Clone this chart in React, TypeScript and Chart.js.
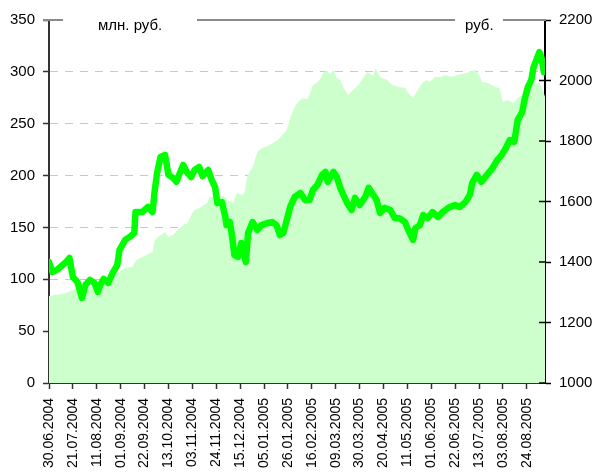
import React, { useEffect, useRef } from "react";
import { Chart, registerables } from "chart.js";

Chart.register(...registerables);

const tickLabels = [
  "30.06.2004", "21.07.2004", "11.08.2004", "01.09.2004", "22.09.2004", "13.10.2004",
  "03.11.2004", "24.11.2004", "15.12.2004", "05.01.2005", "26.01.2005", "16.02.2005",
  "09.03.2005", "30.03.2005", "20.04.2005", "11.05.2005", "01.06.2005", "22.06.2005",
  "13.07.2005", "03.08.2005", "24.08.2005",
];

// days since 30.06.2004 — price (rub., right axis)
const lineDays = [
  0, 3, 7, 11, 15, 18, 21, 25, 29, 32,
  36, 40, 43, 45, 48, 52, 56, 60, 62, 67,
  71, 75, 76, 82, 84, 87, 91, 93, 95, 98,
  102, 105, 109, 112, 115, 118, 121, 125, 128, 132,
  135, 140, 143, 146, 148, 152, 155, 156, 159, 161,
  163, 166, 169, 173, 175, 179, 183, 187, 192, 196,
  200, 203, 206, 209, 212, 216, 221, 225, 229, 232,
  236, 240, 243, 245, 250, 253, 256, 258, 262, 266,
  269, 273, 278, 281, 285, 288, 291, 295, 300, 304,
  308, 313, 315, 320, 322, 326, 329, 333, 337, 342,
  346, 351, 357, 361, 366, 370, 372, 376, 380, 385,
  390, 394, 398, 402, 405, 409, 412, 416, 418, 421,
  424, 426, 429, 431, 433, 435,
];
const lineValues = [
  1400, 1367, 1374, 1387, 1400, 1413, 1350, 1334, 1281, 1324,
  1341, 1331, 1301, 1324, 1344, 1331, 1364, 1390, 1440, 1473,
  1483, 1496, 1565, 1565, 1572, 1582, 1565, 1638, 1694, 1747,
  1754, 1688, 1678, 1665, 1694, 1721, 1698, 1681, 1704, 1714,
  1684, 1704, 1671, 1648, 1595, 1598, 1549, 1522, 1532, 1483,
  1423, 1417, 1463, 1400, 1496, 1532, 1506, 1522, 1529, 1532,
  1522, 1489, 1496, 1539, 1582, 1615, 1628, 1605, 1605, 1638,
  1655, 1688, 1698, 1665, 1698, 1681, 1645, 1628, 1595, 1572,
  1612, 1588, 1615, 1645, 1622, 1605, 1562, 1579, 1572, 1545,
  1545, 1532, 1512, 1473, 1512, 1522, 1555, 1545, 1565, 1549,
  1565, 1579, 1588, 1582, 1598, 1622, 1661, 1688, 1665, 1688,
  1711, 1737, 1754, 1780, 1803, 1797, 1869, 1896, 1936, 1979,
  2002, 2045, 2074, 2094, 2074, 2028,
];

// days since 30.06.2004 — volume (mln rub., left axis)
const areaDays = [
  0, 5, 11, 17, 21, 25, 32, 40, 49, 55,
  61, 67, 73, 77, 82, 87, 91, 93, 98, 102,
  105, 109, 113, 118, 122, 126, 128, 134, 139, 141,
  146, 150, 155, 157, 162, 165, 170, 172, 174, 177,
  179, 183, 187, 192, 197, 201, 205, 209, 212, 216,
  219, 223, 227, 229, 232, 235, 238, 241, 244, 247,
  250, 253, 256, 260, 263, 267, 272, 276, 280, 285,
  287, 291, 297, 302, 308, 313, 315, 320, 323, 328,
  332, 335, 339, 344, 348, 354, 359, 367, 374, 377,
  381, 386, 392, 396, 399, 403, 408, 412, 416, 418,
  425, 431, 434, 436,
];
const areaValues = [
  83.9, 84.9, 85.8, 87.8, 89.7, 90.6, 91.6, 93.5, 96.4, 99.3,
  107.0, 110.9, 111.9, 118.6, 121.5, 124.4, 126.3, 137.9, 142.7, 145.6,
  140.8, 142.7, 147.5, 152.4, 154.3, 163.9, 166.8, 169.7, 173.6, 179.4,
  179.4, 181.3, 179.4, 176.5, 173.6, 183.2, 181.3, 184.2, 198.6, 205.4,
  207.3, 222.8, 226.6, 228.5, 231.4, 234.3, 239.2, 244.0, 255.5, 266.2,
  271.0, 274.8, 273.9, 277.7, 287.4, 289.3, 292.2, 298.9, 301.8, 298.0,
  301.8, 294.1, 292.2, 282.5, 277.7, 282.5, 287.4, 294.1, 299.9, 296.0,
  303.8, 295.1, 292.2, 287.4, 285.4, 284.5, 280.6, 274.8, 280.6, 289.3,
  292.2, 290.3, 295.1, 295.1, 297.0, 295.1, 297.0, 298.9, 301.8, 298.9,
  290.3, 289.3, 285.4, 284.5, 271.0, 272.9, 270.0, 274.8, 277.7, 280.6,
  287.4, 289.3, 282.5, 276.0,
];

const leftTitle = "млн. руб.";
const rightTitle = "руб.";
const xMaxDay = 436;

const FONT = "'Liberation Sans', Arial, sans-serif";

function dayOffset(label: string): number {
  const [d, m, y] = label.split(".").map(Number);
  const [d0, m0, y0] = tickLabels[0].split(".").map(Number);
  return Math.round((Date.UTC(y, m - 1, d) - Date.UTC(y0, m0 - 1, d0)) / 86400000);
}
const tickDays = tickLabels.map(dayOffset);

const decorPlugin = {
  id: "decor",
  afterDraw(chart: any) {
    const { ctx, chartArea } = chart;
    const yTop = chart.scales.y.getPixelForValue(350);
    ctx.save();
    // inward ticks on right axis
    ctx.strokeStyle = "#000";
    ctx.lineWidth = 1.5;
    chart.scales.y1.ticks.forEach((t: any) => {
      const py = chart.scales.y1.getPixelForValue(t.value);
      ctx.beginPath();
      ctx.moveTo(chartArea.right - 6, py);
      ctx.lineTo(chartArea.right, py);
      ctx.stroke();
    });
    // top line
    ctx.strokeStyle = "#8a8a8a";
    ctx.lineWidth = 2;
    ctx.beginPath();
    ctx.moveTo(chartArea.left - 6, yTop);
    ctx.lineTo(chartArea.right + 1, yTop);
    ctx.stroke();
    ctx.fillStyle = "#fff";
    ctx.fillRect(chartArea.left + 14, yTop - 3, 134, 6);
    ctx.fillRect(chartArea.right - 90, yTop - 3, 48, 6);
    ctx.fillStyle = "#000";
    ctx.font = "15px " + FONT;
    ctx.textBaseline = "alphabetic";
    ctx.textAlign = "left";
    ctx.fillText(leftTitle, chartArea.left + 49, yTop + 10);
    ctx.fillText(rightTitle, chartArea.right - 80, yTop + 10);
    ctx.restore();
  },
};

export default function App() {
  const ref = useRef<HTMLCanvasElement>(null);
  useEffect(() => {
    document.body.style.margin = "0";
    if (!ref.current) return;
    Chart.defaults.font.family = FONT;
    Chart.defaults.font.size = 15;
    Chart.defaults.color = "#000";
    const chart = new Chart(ref.current, {
      type: "line",
      data: {
        datasets: [
          {
            label: "price",
            data: lineDays.map((d, i) => ({ x: d, y: lineValues[i] })),
            yAxisID: "y1",
            borderColor: "#00ff00",
            borderWidth: 6.5,
            borderJoinStyle: "round",
            borderCapStyle: "round",
            pointRadius: 0,
            fill: false,
            tension: 0,
            order: 0,
          },
          {
            label: "volume",
            data: areaDays.map((d, i) => ({ x: d, y: areaValues[i] })),
            yAxisID: "y",
            borderWidth: 0,
            borderColor: "rgba(0,0,0,0)",
            backgroundColor: "#ccffcc",
            pointRadius: 0,
            fill: "origin",
            tension: 0,
            order: 1,
          },
        ],
      },
      options: {
        responsive: false,
        animation: false,
        layout: { padding: { top: 20, left: 0, right: 0, bottom: 0 } },
        plugins: { legend: { display: false }, tooltip: { enabled: false } },
        scales: {
          x: {
            type: "linear",
            min: 0,
            max: xMaxDay,
            afterBuildTicks: (s: any) => {
              s.ticks = tickDays.map((v) => ({ value: v }));
            },
            afterFit: (s: any) => {
              s.height = 91;
            },
            ticks: {
              autoSkip: false,
              maxRotation: 90,
              minRotation: 90,
              padding: 9,
              font: { size: 14 },
              callback: (_v: any, i: number) => tickLabels[i],
            },
            grid: { drawOnChartArea: false, tickLength: 6, tickColor: "#333", tickWidth: 1.5 },
            border: { color: "#333", width: 2 },
          },
          y: {
            position: "left",
            min: 0,
            max: 350,
            afterFit: (s: any) => {
              s.width = 49;
            },
            ticks: { stepSize: 50, padding: 8, callback: (v: any) => String(v) },
            grid: { color: "#c8c8c8", lineWidth: 1, tickLength: 6, tickColor: "#333", tickWidth: 1.5 },
            border: { color: "#333", width: 2, dash: [8, 7] },
          },
          y1: {
            position: "right",
            min: 1000,
            max: 2200,
            afterFit: (s: any) => {
              s.width = 49;
            },
            ticks: { stepSize: 200, padding: 8, callback: (v: any) => String(v) },
            grid: { drawOnChartArea: false, tickLength: 6, tickColor: "#000", tickWidth: 1.5 },
            border: { color: "#000", width: 2 },
          },
        },
      },
      plugins: [decorPlugin],
    });
    return () => chart.destroy();
  }, []);
  return (
    <div style={{ width: 594, height: 474 }}>
      <canvas ref={ref} width={594} height={474} />
    </div>
  );
}
